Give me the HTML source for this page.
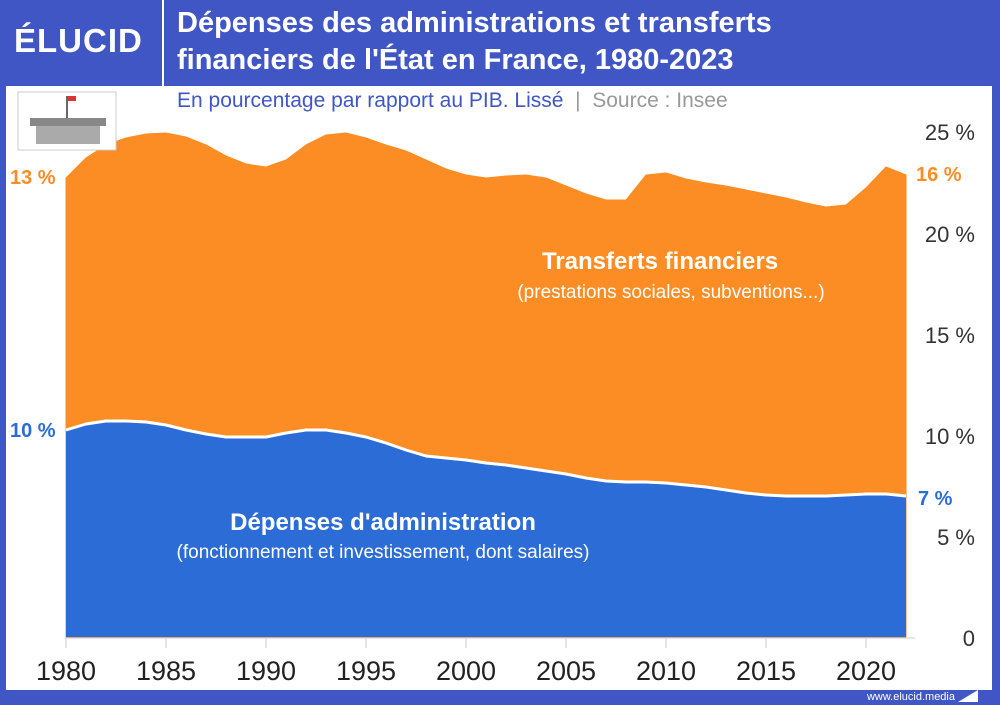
<!DOCTYPE html>
<html><head><meta charset="utf-8"><style>
body{margin:0;width:1000px;height:705px;overflow:hidden;font-family:"Liberation Sans",sans-serif;background:#3f56c4;position:relative}
.white{position:absolute;left:6px;top:86px;width:986px;height:604px;background:#fff}
.t{position:absolute;white-space:nowrap}
</style></head><body>
<div class="white"></div>
<div class="t" style="left:162px;top:0;width:2px;height:86px;background:#fff"></div>
<div class="t" style="left:14px;top:22px;font-size:33px;font-weight:bold;color:#fff;letter-spacing:1px">ÉLUCID</div>
<div class="t" style="left:177px;top:5px;font-size:29px;font-weight:bold;color:#fff;line-height:37px">Dépenses des administrations et transferts<br>financiers de l'État en France, 1980-2023</div>
<div class="t" style="left:177px;top:89px;font-size:21px;color:#3f56c4">En pourcentage par rapport au PIB. Lissé <span style="color:#999">&nbsp;|&nbsp; Source : Insee</span></div>
<svg class="t" style="left:0;top:0" width="1000" height="705">
<polygon points="66,178 86,158 106,145 126,138 146,134 166,133 186,137 206,145 226,156 246,164 266,167 286,160 306,145 326,135 346,133 366,138 386,145 406,151 426,160 446,169 466,175 486,178 506,176 526,175 546,178 566,186 586,194 606,200 626,200 646,175 666,173 686,179 706,183 726,186 746,190 766,194 786,198 806,203 826,207 846,205 866,188 886,167 906,175 906,637 66,637" fill="#fb8d24" stroke="#fb8d24" stroke-linejoin="round"/>
<polygon points="66,430 86,424 106,421 126,421 146,422 166,425 186,430 206,434 226,437 246,437 266,437 286,433 306,430 326,430 346,433 366,437 386,443 406,450 426,456 446,458 466,460 486,463 506,465 526,468 546,471 566,474 586,478 606,481 626,482 646,482 666,483 686,485 706,487 726,490 746,493 766,495 786,496 806,496 826,496 846,495 866,494 886,494 906,496 906,637 66,637" fill="#2c6cd6"/>
<polyline points="66,430 86,424 106,421 126,421 146,422 166,425 186,430 206,434 226,437 246,437 266,437 286,433 306,430 326,430 346,433 366,437 386,443 406,450 426,456 446,458 466,460 486,463 506,465 526,468 546,471 566,474 586,478 606,481 626,482 646,482 666,483 686,485 706,487 726,490 746,493 766,495 786,496 806,496 826,496 846,495 866,494 886,494 906,496" fill="none" stroke="#fff" stroke-width="3" stroke-linejoin="round"/>
<line x1="66" y1="638" x2="915" y2="638" stroke="#ccc"/>
<g stroke="#ccc">
<line x1="66" y1="638" x2="66" y2="648"/><line x1="166" y1="638" x2="166" y2="648"/><line x1="266" y1="638" x2="266" y2="648"/><line x1="366" y1="638" x2="366" y2="648"/><line x1="466" y1="638" x2="466" y2="648"/><line x1="566" y1="638" x2="566" y2="648"/><line x1="666" y1="638" x2="666" y2="648"/><line x1="766" y1="638" x2="766" y2="648"/><line x1="866" y1="638" x2="866" y2="648"/>
</g>
<g font-size="27" fill="#222" text-anchor="middle" font-family="Liberation Sans">
<text x="66" y="680">1980</text><text x="166" y="680">1985</text><text x="266" y="680">1990</text><text x="366" y="680">1995</text><text x="466" y="680">2000</text><text x="566" y="680">2005</text><text x="666" y="680">2010</text><text x="766" y="680">2015</text><text x="866" y="680">2020</text>
</g>
<g font-size="22" fill="#333" text-anchor="end" font-family="Liberation Sans">
<text x="975" y="140">25 %</text><text x="975" y="242">20 %</text><text x="975" y="343">15 %</text><text x="975" y="444">10 %</text><text x="975" y="545">5 %</text><text x="975" y="646">0</text>
</g>
<g font-size="20" font-weight="bold" font-family="Liberation Sans">
<text x="10" y="184" fill="#fb8d24">13 %</text><text x="916" y="181" fill="#fb8d24">16 %</text>
<text x="10" y="437" fill="#2c6cd6">10 %</text><text x="918" y="505" fill="#2c6cd6">7 %</text>
</g>
<text x="660" y="269" font-size="24" font-weight="bold" fill="#fff" text-anchor="middle" font-family="Liberation Sans">Transferts financiers</text>
<text x="671" y="298" font-size="19" fill="#fff" text-anchor="middle" font-family="Liberation Sans">(prestations sociales, subventions...)</text>
<text x="383" y="530" font-size="24" font-weight="bold" fill="#fff" text-anchor="middle" font-family="Liberation Sans">Dépenses d'administration</text>
<text x="383" y="558" font-size="19" fill="#fff" text-anchor="middle" font-family="Liberation Sans">(fonctionnement et investissement, dont salaires)</text>
<text x="955" y="700" font-size="11" fill="#fff" text-anchor="end" font-family="Liberation Sans">www.elucid.media</text>
<path d="M958,702 L978,690 L978,702 Z" fill="#fff"/>
<rect x="18" y="92" width="98" height="58" fill="#fff" stroke="#ccc"/>
<rect x="30" y="118" width="76" height="8" fill="#888"/>
<rect x="36" y="126" width="64" height="18" fill="#aaa"/>
<rect x="66" y="96" width="2" height="22" fill="#666"/>
<rect x="68" y="96" width="8" height="5" fill="#d33"/>
</svg>
</body></html>
